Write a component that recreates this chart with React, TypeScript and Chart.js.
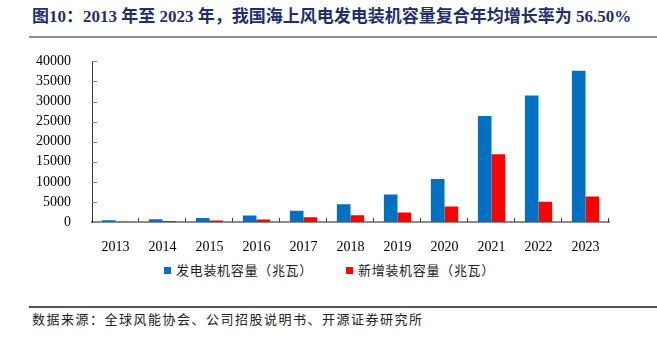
import React, { useEffect, useRef } from "react";
import { Chart, registerables } from "chart.js";

Chart.register(...registerables);

const categories = ["2013", "2014", "2015", "2016", "2017", "2018", "2019", "2020", "2021", "2022", "2023"];
const capacity = [428, 658, 1018, 1627, 2788, 4445, 6838, 10700, 26390, 31500, 37700];
const added = [39, 230, 361, 592, 1161, 1655, 2395, 3843, 16900, 5052, 6330];
const seriesNames = ["发电装机容量（兆瓦）", "新增装机容量（兆瓦）"];
const seriesColors = ["#0070C0", "#FF0000"];
const titleText = "图10：2013 年至 2023 年，我国海上风电发电装机容量复合年均增长率为 56.50%";
const sourceText = "数据来源：全球风能协会、公司招股说明书、开源证券研究所";

const innerTicks = {
  id: "innerTicks",
  afterDraw(chart: any) {
    const { ctx, chartArea, scales } = chart;
    const { left, right, bottom } = chartArea;
    const x = scales.x;
    const y = scales.y;
    ctx.save();
    ctx.lineWidth = 1;
    ctx.strokeStyle = "#404040";
    const n = categories.length;
    for (let i = 1; i <= n; i++) {
      const px = i < n ? (x.getPixelForValue(i - 1) + x.getPixelForValue(i)) / 2 : right;
      const rx = Math.round(px) - 0.5;
      ctx.beginPath();
      ctx.moveTo(rx, bottom);
      ctx.lineTo(rx, bottom - 4);
      ctx.stroke();
    }
    ctx.strokeStyle = "#808080";
    y.ticks.forEach((t: any) => {
      if (t.value <= 0) return;
      const py = Math.round(y.getPixelForValue(t.value)) + 0.5;
      ctx.beginPath();
      ctx.moveTo(left, py);
      ctx.lineTo(left + 5, py);
      ctx.stroke();
    });
    ctx.restore();
  },
};

function BarChart() {
  const ref = useRef<HTMLCanvasElement | null>(null);
  useEffect(() => {
    if (!ref.current) return;
    const chart = new Chart(ref.current, {
      type: "bar",
      data: {
        labels: categories,
        datasets: [
          {
            label: seriesNames[0],
            data: capacity,
            backgroundColor: seriesColors[0],
            categoryPercentage: 0.58,
            barPercentage: 1.0,
          },
          {
            label: seriesNames[1],
            data: added,
            backgroundColor: seriesColors[1],
            categoryPercentage: 0.58,
            barPercentage: 1.0,
          },
        ],
      },
      options: {
        responsive: false,
        animation: false,
        devicePixelRatio: 1,
        layout: { padding: { top: 19, right: 48, bottom: 8, left: 0 } },
        plugins: {
          legend: { display: false },
          tooltip: { enabled: false },
        },
        scales: {
          x: {
            grid: { display: false },
            border: { display: true, color: "#8c8c8c", width: 2 },
            ticks: {
              color: "#000",
              padding: 9,
              font: { family: "'Liberation Serif', 'Times New Roman', serif", size: 14 },
              maxRotation: 0,
            },
            afterFit(scale: any) {
              scale.height = 30;
            },
          },
          y: {
            min: 0,
            max: 40000,
            grid: { display: false },
            border: { display: true, color: "#333", width: 1 },
            ticks: {
              stepSize: 5000,
              color: "#000",
              padding: 13,
              font: { family: "'Liberation Serif', 'Times New Roman', serif", size: 14 },
              callback: (v: any) => String(v),
            },
            afterFit(scale: any) {
              scale.width = 92;
            },
          },
        },
      },
      plugins: [innerTicks],
    });
    return () => chart.destroy();
  }, []);
  return (
    <canvas
      ref={ref}
      width={657}
      height={220}
      style={{ position: "absolute", left: 0, top: 40, width: 657, height: 220 }}
    />
  );
}

export default function App() {
  const cjk = "'Noto Sans CJK SC', 'Noto Sans', sans-serif";
  return (
    <div
      style={{
        position: "fixed",
        left: 0,
        top: 0,
        width: 657,
        height: 337,
        background: "#fff",
        overflow: "hidden",
      }}
    >
      <div
        style={{
          position: "absolute",
          left: 32,
          top: 7,
          fontFamily: "'Liberation Serif', 'Noto Sans CJK SC', serif",
          fontWeight: "bold",
          fontSize: 17,
          lineHeight: "20px",
          color: "#1F2F6E",
          whiteSpace: "nowrap",
        }}
      >
        {titleText}
      </div>
      <div style={{ position: "absolute", left: 29, right: 0, top: 36, height: 2, background: "#8c8c8c" }} />
      <BarChart />
      <div
        style={{
          position: "absolute",
          left: 164,
          top: 262,
          display: "flex",
          alignItems: "center",
          fontFamily: cjk,
          fontSize: 13,
          lineHeight: "16px",
          letterSpacing: 0.7,
          color: "#222",
          whiteSpace: "nowrap",
        }}
      >
        <span style={{ display: "inline-block", width: 7, height: 7, background: seriesColors[0], marginRight: 5 }} />
        <span>{seriesNames[0]}</span>
        <span style={{ display: "inline-block", width: 7, height: 7, background: seriesColors[1], marginLeft: 33, marginRight: 5 }} />
        <span>{seriesNames[1]}</span>
      </div>
      <div style={{ position: "absolute", left: 29, right: 0, top: 306, height: 1.5, background: "#555" }} />
      <div
        style={{
          position: "absolute",
          left: 32,
          top: 311,
          fontFamily: cjk,
          fontSize: 13,
          lineHeight: "16px",
          letterSpacing: 1.5,
          color: "#222",
          whiteSpace: "nowrap",
        }}
      >
        {sourceText}
      </div>
    </div>
  );
}
